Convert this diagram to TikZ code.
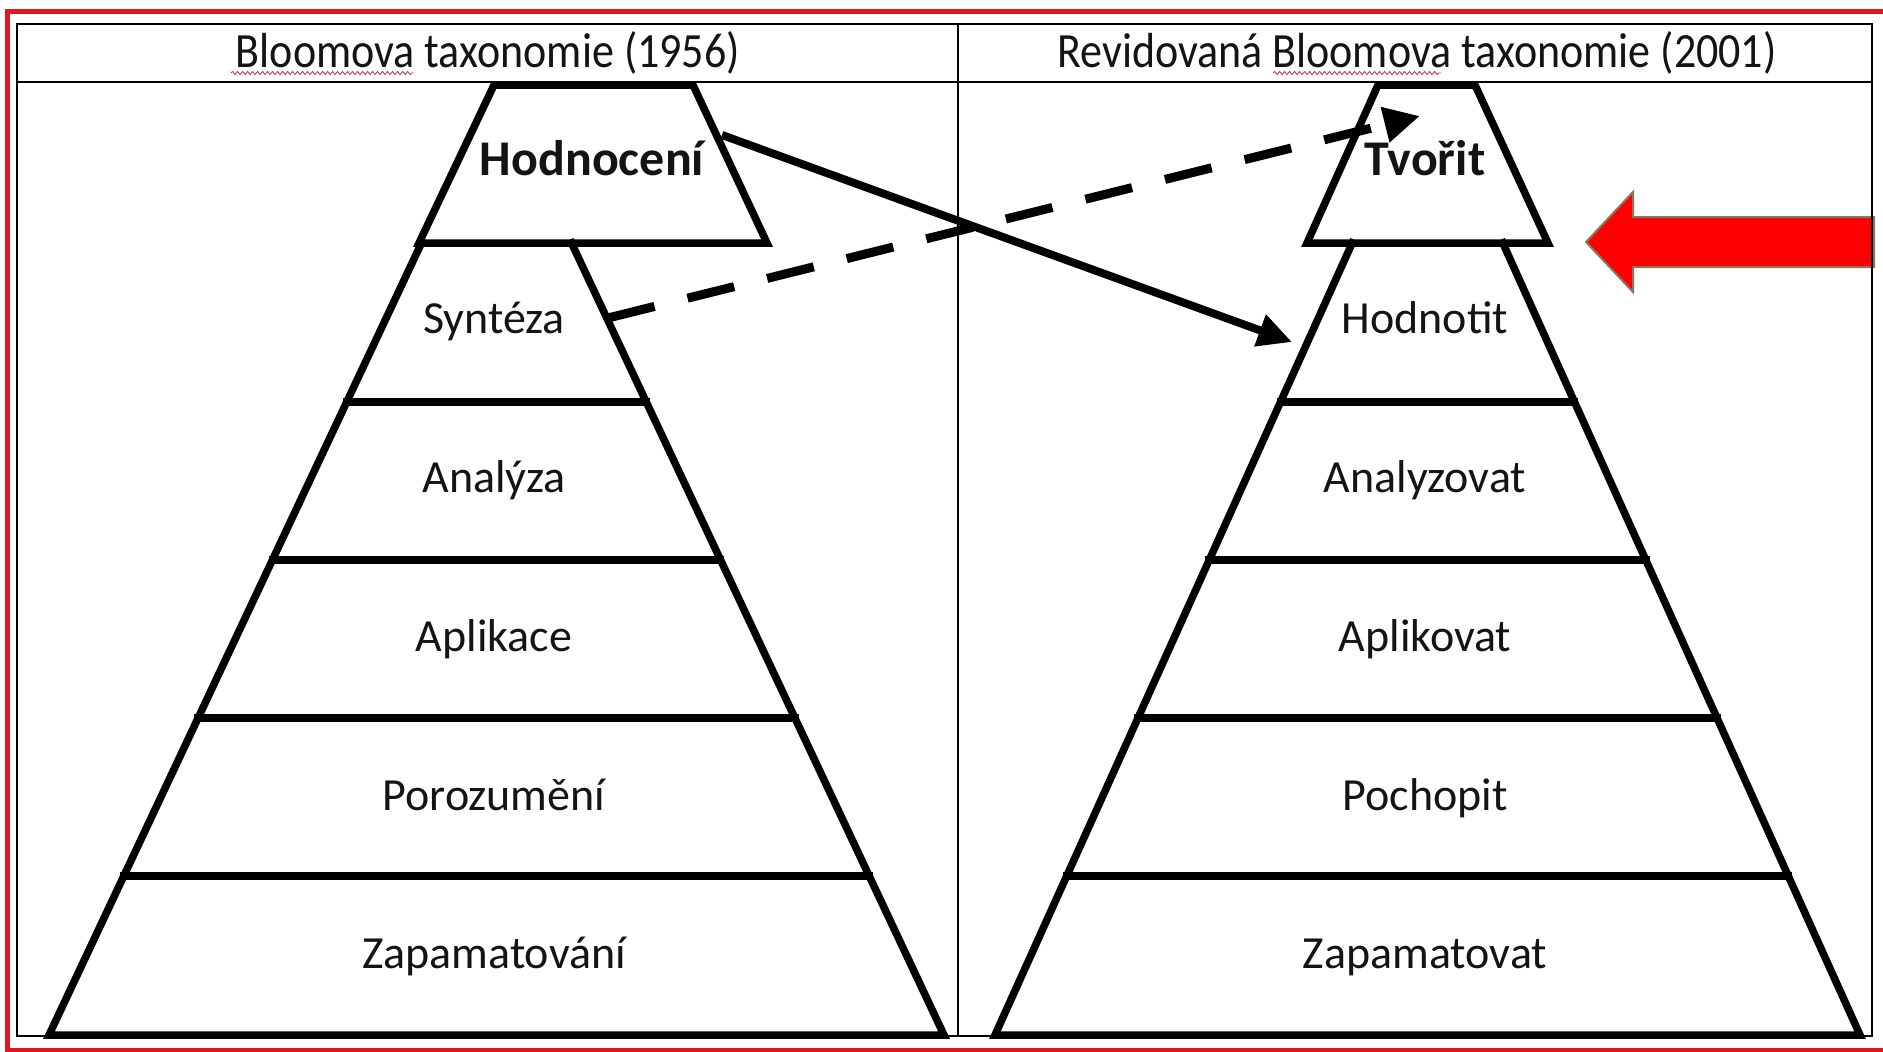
\documentclass[tikz,border=0pt]{standalone}
\usepackage{fontspec}
\setmainfont{Carlito}
\usetikzlibrary{arrows.meta,decorations.pathmorphing}
\definecolor{frame}{RGB}{225,22,32}
\definecolor{arrowred}{RGB}{255,0,0}
\definecolor{khaki}{RGB}{135,120,88}
\definecolor{squig}{RGB}{190,70,90}
\definecolor{ink}{RGB}{20,20,20}
\begin{document}
\begin{tikzpicture}[x=1pt,y=-1pt,
  pyr/.style={line width=7.5pt, line join=miter, line cap=rect},
  lbl/.style={font=\fontsize{46}{50}\selectfont, text=ink, inner sep=0pt, anchor=base},
  blbl/.style={font=\fontsize{50}{54}\selectfont\bfseries, text=ink, inner sep=0pt, anchor=base},
  hdr/.style={font=\fontsize{44}{48}\selectfont, text=ink, inner sep=0pt, anchor=base},
  gridline/.style={line width=2.5pt},
  redframe/.style={draw=frame, line width=5pt},
  bigarrow/.style={fill=arrowred, draw=khaki, line width=2pt, line join=miter},
  solidarr/.style={line width=8pt, -{Triangle[length=34pt,width=32pt]}},
  dasharr/.style={line width=9pt, dash pattern=on 48pt off 34pt, -{Triangle[length=36pt,width=34pt]}},
  squiggle/.style={draw=squig, line width=0.9pt, decorate, decoration={snake, segment length=5pt, amplitude=1.6pt}},
]
\clip (0,0) rectangle (1883,1052);
\fill[white] (0,0) rectangle (1883,1052);
% red outer frame
\draw[redframe] (7.5,11) rectangle (1892,1050);
% red block arrow
\draw[bigarrow] (1586,242) -- (1633,192) -- (1633,217) -- (1874,217) -- (1874,267) -- (1633,267) -- (1633,292) -- cycle;
% table
\draw[gridline] (17,24) rectangle (1872,1036);
\draw[gridline] (17,82) -- (1872,82);
\draw[gridline] (958,24) -- (958,1036);
% headers
\node[hdr] (h1) at (488,67) {\scalebox{1}[1.12]{Bloomova taxonomie (1956)}};
\node[hdr] (h2) at (1417,67) {\scalebox{1}[1.12]{Revidovaná Bloomova taxonomie (2001)}};
\draw[squiggle] (231,73) -- (414,73);
\draw[squiggle] (1273,73) -- (1441,73);
% left pyramid
\draw[pyr] (494,85) -- (693,85) -- (767,243) -- (419,243) -- cycle;
\draw[pyr] (421.5,243) -- (49,1035) -- (944,1035) -- (571.5,243);
\draw[pyr] (346.7,402) -- (646.3,402);
\draw[pyr] (272.4,560) -- (720.6,560);
\draw[pyr] (198.1,718) -- (794.9,718);
\draw[pyr] (123.8,876) -- (869.2,876);
% right pyramid
\draw[pyr] (1378,85) -- (1475,85) -- (1548,243) -- (1307,243) -- cycle;
\draw[pyr] (1352.2,243) -- (995,1035) -- (1860,1035) -- (1502.8,243);
\draw[pyr] (1280.5,402) -- (1574.5,402);
\draw[pyr] (1209.2,560) -- (1645.8,560);
\draw[pyr] (1138,718) -- (1717,718);
\draw[pyr] (1066.7,876) -- (1788.3,876);
% left labels
\node[blbl] (l1) at (592,175) {Hodnocení};
\node[lbl] (l2) at (494,333) {Syntéza};
\node[lbl] (l3) at (494,492) {Analýza};
\node[lbl] (l4) at (494,651) {Aplikace};
\node[lbl] (l5) at (494,810) {Porozumění};
\node[lbl] (l6) at (494,968) {Zapamatování};
% right labels
\node[blbl] (r1) at (1425,175) {Tvořit};
\node[lbl] (r2) at (1425,333) {Hodnotit};
\node[lbl] (r3) at (1425,492) {Analyzovat};
\node[lbl] (r4) at (1425,651) {Aplikovat};
\node[lbl] (r5) at (1425,810) {Pochopit};
\node[lbl] (r6) at (1425,968) {Zapamatovat};
% connectors
\coordinate (s1) at (722,135);
\coordinate (e1) at (1292,342);
\coordinate (s2) at (608,318);
\coordinate (e2) at (1420,116);
\draw[solidarr] (s1) -- (e1);
\draw[dasharr] (s2) -- (e2);
\end{tikzpicture}
\end{document}
